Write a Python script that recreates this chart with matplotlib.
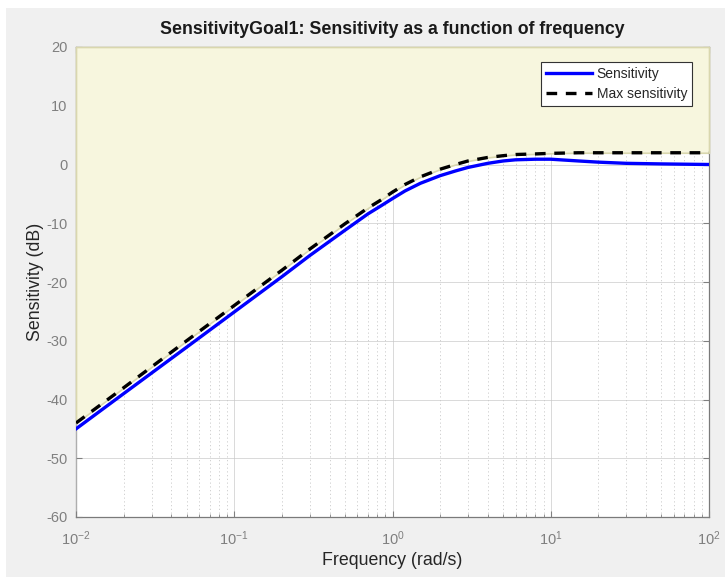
import matplotlib
matplotlib.use("Agg")
import matplotlib.pyplot as plt
from matplotlib.patches import Rectangle
from matplotlib.ticker import LogLocator, NullFormatter

plt.rcParams['font.family'] = ['Liberation Sans', 'DejaVu Sans']
plt.rcParams['mathtext.fontset'] = 'custom'
plt.rcParams['mathtext.rm'] = 'Liberation Sans'
plt.rcParams['mathtext.it'] = 'Liberation Sans:italic'
plt.rcParams['mathtext.bf'] = 'Liberation Sans:bold'
plt.rcParams['axes.unicode_minus'] = False

# frequency grid (rad/s) and responses (dB)
freq = [0.01, 0.02, 0.05, 0.1, 0.2, 0.3, 0.5, 0.7, 0.85, 1.0, 1.2, 1.5,
        2.0, 2.5, 3.0, 4.0, 5.0, 6.0, 8.0, 10.0, 15.0, 20.0, 30.0, 50.0,
        100.0]
sensitivity = [-45.0, -39.0, -31.1, -25.1, -19.1, -15.5, -11.2, -8.4,
               -7.0, -5.8, -4.5, -3.2, -1.9, -1.1, -0.5, 0.2, 0.6, 0.8,
               0.9, 0.9, 0.6, 0.4, 0.2, 0.1, 0.0]
max_sensitivity = [-44.0, -38.0, -30.0, -24.0, -18.0, -14.4, -10.1, -7.4,
                   -6.0, -4.7, -3.4, -2.1, -0.8, 0.0, 0.6, 1.2, 1.5, 1.7,
                   1.8, 1.9, 2.0, 2.0, 2.0, 2.0, 2.0]

y_top, y_bottom = 20, -60
gray_bg = '#f0f0f0'
tick_gray = '#808080'

fig = plt.figure(figsize=(7.25, 5.77), dpi=100, facecolor=gray_bg)
# thin white strip along the top and left border
fig.patches.append(Rectangle((0, 1 - 8 / 577), 1, 8 / 577, transform=fig.transFigure,
                             facecolor='white', edgecolor='none', zorder=0))
fig.patches.append(Rectangle((0, 0), 6 / 725, 1, transform=fig.transFigure,
                             facecolor='white', edgecolor='none', zorder=0))

ax = fig.add_axes([76 / 725, 1 - 517 / 577, 633 / 725, 470 / 577])
ax.set_facecolor('white')
ax.set_xscale('log')
ax.set_xlim(0.01, 100)
ax.set_ylim(y_bottom, y_top)

# shaded region above the bound
ax.fill_between(freq, max_sensitivity, y_top, facecolor='#f7f6de',
                edgecolor='#d9d7ae', linewidth=1.2, zorder=2.6, clip_on=False)

ax.plot(freq, sensitivity, color='#0000ff', linewidth=2.4, zorder=4,
        label='Sensitivity', solid_joinstyle='round')
ax.plot(freq, max_sensitivity, color='black', linewidth=2.4, zorder=4,
        dashes=(3.2, 2.6), label='Max sensitivity')

# grid
ax.xaxis.set_major_locator(LogLocator(base=10, numticks=10))
ax.xaxis.set_minor_locator(LogLocator(base=10, subs=range(2, 10), numticks=20))
ax.xaxis.set_minor_formatter(NullFormatter())
ax.set_yticks(range(-60, 21, 10))
ax.grid(which='major', color='#c8c8c8', linewidth=0.6, alpha=0.8)
ax.grid(which='minor', axis='x', color='#c0c0c0', linewidth=0.6,
        linestyle=(0, (1.5, 3)), alpha=0.85)
ax.set_axisbelow(False)
for gl in ax.get_xgridlines() + ax.get_ygridlines():
    gl.set_zorder(3)

for side in ['left', 'bottom', 'right', 'top']:
    ax.spines[side].set_color('#7a7a7a')
    ax.spines[side].set_linewidth(0.9)

ax.tick_params(which='both', direction='in', colors=tick_gray, top=True,
               right=True, labelsize=10.5, labelcolor='#7f7f7f')
ax.tick_params(which='major', length=4)
ax.tick_params(which='minor', length=2.5)
ax.tick_params(axis='x', which='major', pad=9)
ax.tick_params(axis='y', which='major', pad=6)

ax.set_title('SensitivityGoal1: Sensitivity as a function of frequency',
             fontsize=12.8, fontweight='bold', color='#1a1a1a', pad=9)
ax.set_xlabel('Frequency (rad/s)', fontsize=12.8, color='#262626', labelpad=3)
ax.set_ylabel('Sensitivity (dB)', fontsize=12.8, color='#262626', labelpad=2)

leg = ax.legend(loc='upper right', bbox_to_anchor=(0.973, 0.968), fontsize=10,
                fancybox=False, framealpha=1, edgecolor='#333333',
                handlelength=3.3, handletextpad=0.35, borderpad=0.35,
                labelspacing=0.45, borderaxespad=0)
leg.get_frame().set_linewidth(0.8)
leg.set_zorder(6)
for txt in leg.get_texts():
    txt.set_color('#262626')

fig.savefig('out.png', dpi=100, facecolor=fig.get_facecolor())
